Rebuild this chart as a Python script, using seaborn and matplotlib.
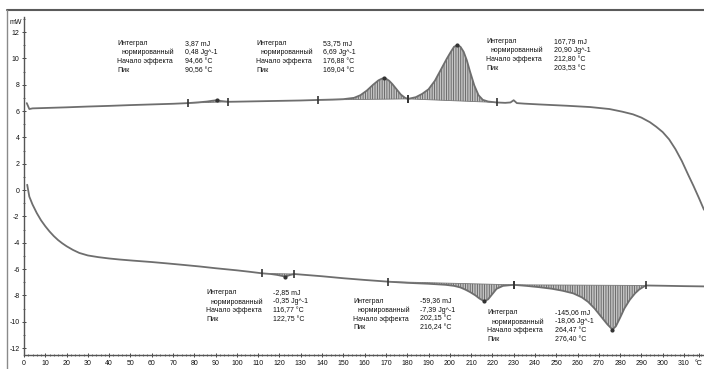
import numpy as np
import matplotlib
matplotlib.use("Agg")
import matplotlib.pyplot as plt
from matplotlib.lines import Line2D
from matplotlib.ticker import MultipleLocator, FixedLocator
import seaborn as sns

sns.set_style("white")
plt.rcParams['font.family'] = ['Liberation Sans', 'DejaVu Sans']
plt.rcParams['hatch.linewidth'] = 0.6

# Heating run, temperature (°C) and heat flow (mW)
heat_t = [1.3, 2.5, 4, 10, 20, 30, 40, 50, 60, 70, 77, 82, 86, 88.5, 90.56, 92.5,
          96, 100, 110, 120, 130, 138, 145, 150, 155, 158, 161, 164, 166.5, 168,
          169.04, 170, 171.5, 173, 175, 177, 179, 180.4, 184, 187, 190, 193, 196,
          198.5, 200.5, 202, 203.53, 205, 206.5, 208, 209.5, 211.5, 213.5, 215.5,
          218, 222, 226, 228.5, 230, 231.5, 235, 242, 255, 266, 275, 281, 286, 290,
          294, 297, 300, 303, 306, 309, 312, 314.5, 317, 319.4]
heat_mw = [6.6, 6.15, 6.2, 6.23, 6.28, 6.34, 6.39, 6.45, 6.5, 6.55, 6.6, 6.66, 6.72, 6.78,
           6.82, 6.76, 6.7, 6.71, 6.74, 6.77, 6.8, 6.84, 6.87, 6.9, 7.0, 7.2, 7.55, 8.0,
           8.33, 8.45, 8.5, 8.46, 8.3, 8.05, 7.65, 7.25, 7.0, 6.92, 7.05, 7.3, 7.65, 8.3,
           9.2, 9.95, 10.5, 10.88, 11.0, 10.88, 10.5, 9.85, 9.0, 7.95, 7.2, 6.85, 6.72,
           6.65, 6.62, 6.65, 6.82, 6.6, 6.56, 6.5, 6.4, 6.3, 6.15, 5.95, 5.75, 5.5, 5.15,
           4.8, 4.4, 3.85, 3.1, 2.2, 1.15, 0.3, -0.6, -1.5]

# Cooling run, temperature (°C) and heat flow (mW)
cool_t = [1.5, 2.5, 4, 6, 8, 10, 12, 14, 16, 18, 20, 23, 26, 30, 35, 40, 45, 51, 60, 67,
          75, 82.7, 90, 100, 106, 112, 116, 119, 122.75, 125, 127, 140, 150, 160, 171,
          180, 190, 198, 202, 205, 207.5, 209.5, 212, 214, 216.24, 218, 220, 222, 225,
          230, 236, 242, 248, 253, 258, 262, 265, 268, 271, 274, 276.4, 278, 280, 282,
          284.5, 287, 289, 292, 300, 310, 319.4]
cool_mw = [0.4, -0.5, -1.1, -1.75, -2.3, -2.75, -3.15, -3.5, -3.8, -4.05, -4.27, -4.55,
           -4.78, -4.97, -5.1, -5.2, -5.28, -5.36, -5.47, -5.57, -5.69, -5.81, -5.94, -6.1,
           -6.21, -6.33, -6.38, -6.45, -6.58, -6.45, -6.38, -6.55, -6.7, -6.83, -6.96,
           -7.05, -7.12, -7.2, -7.28, -7.4, -7.58, -7.75, -8.0, -8.25, -8.45, -8.3, -7.9,
           -7.5, -7.28, -7.2, -7.28, -7.38, -7.5, -7.65, -7.85, -8.15, -8.5, -9.0, -9.6,
           -10.2, -10.6, -10.35, -9.7, -9.0, -8.35, -7.85, -7.55, -7.25, -7.27, -7.3,
           -7.32]

# Evaluated effects: start, end and peak temperature
heat_start = [77, 138, 180.4]
heat_end = [96, 180.4, 222]
heat_peak = [90.56, 169.04, 203.53]
cool_start = [112, 171, 230]
cool_end = [127, 230, 292]
cool_peak = [122.75, 216.24, 276.40]

# Result tables
row_names = ["Интеграл", "нормированный", "Начало эффекта", "Пик"]
heat_integral = ["3,87 mJ", "53,75 mJ", "167,79 mJ"]
heat_norm = ["0,48 Jg^-1", "6,69 Jg^-1", "20,90 Jg^-1"]
heat_onset = ["94,66 °C", "176,88 °C", "212,80 °C"]
heat_peak_txt = ["90,56 °C", "169,04 °C", "203,53 °C"]
cool_integral = ["-2,85 mJ", "-59,36 mJ", "-145,06 mJ"]
cool_norm = ["-0,35 Jg^-1", "-7,39 Jg^-1", "-18,06 Jg^-1"]
cool_onset = ["116,77 °C", "202,15 °C", "264,47 °C"]
cool_peak_txt = ["122,75 °C", "216,24 °C", "276,40 °C"]

x_ticks = list(range(0, 320, 10))
x_labels = [str(v) for v in x_ticks]
y_ticks = list(range(-12, 13, 2))

W, H = 704, 369
fig = plt.figure(figsize=(W / 100, H / 100), dpi=100)
ax = fig.add_axes([24 / W, 14 / H, 680 / W, 338 / H])
ax.set_xlim(0, 319.4)
ax.set_ylim(-12.53, 13.14)

curve_c = "#6e6e6e"
ink = "#111111"


def draw_run(ts, ms, starts, ends, peaks):
    ts = np.asarray(ts, float)
    ms = np.asarray(ms, float)
    sns.lineplot(x=ts, y=ms, ax=ax, color=curve_c, lw=1.3, sort=False, estimator=None)
    for a, b, p in zip(starts, ends, peaks):
        ya, yb = np.interp([a, b], ts, ms)
        sel = (ts >= a) & (ts <= b)
        xs = ts[sel]
        base = ya + (yb - ya) * (xs - a) / (b - a)
        ax.fill_between(xs, ms[sel], base, facecolor="#c4c4c4", edgecolor="#5e5e5e",
                        hatch="|||||||", lw=0, zorder=1)
        ax.plot([a, b], [ya, yb], color="#777777", lw=0.6, zorder=2)
        ax.plot([a, b], [ya, yb], ls="none", marker="|", ms=6, mew=1.2, color="#333333",
                zorder=4)
        ax.plot([p], np.interp([p], ts, ms), ls="none", marker="o", ms=2, color="#333333",
                zorder=4)


draw_run(heat_t, heat_mw, heat_start, heat_end, heat_peak)
draw_run(cool_t, cool_mw, cool_start, cool_end, cool_peak)

# Result tables: label column x, value column x, first row y
heat_anchor = [(43.7, 75.6, 11.14), (109.0, 140.4, 11.14), (217.0, 249.0, 11.26)]
cool_anchor = [(85.5, 117.0, -7.82), (154.5, 186.0, -8.43), (217.5, 249.4, -9.34)]
row_step = 0.683


def draw_table(anchor, vals):
    lx, vx, y0 = anchor
    for i, (name, val) in enumerate(zip(row_names, vals)):
        y = y0 - i * row_step
        ax.text(lx + (2.3 if i == 1 else 0), y, name, fontsize=5, color=ink,
                va="center", ha="left")
        ax.text(vx, y, val, fontsize=5, color=ink, va="center", ha="left")


for k in range(3):
    draw_table(heat_anchor[k], [heat_integral[k], heat_norm[k], heat_onset[k],
                                heat_peak_txt[k]])
    draw_table(cool_anchor[k], [cool_integral[k], cool_norm[k], cool_onset[k],
                                cool_peak_txt[k]])

# Axes styling
for s in ["top", "right"]:
    ax.spines[s].set_visible(False)
for s in ["left", "bottom"]:
    ax.spines[s].set_color("#555555")
    ax.spines[s].set_linewidth(1.0)

ax.xaxis.set_major_locator(FixedLocator(x_ticks + [317]))
ax.set_xticklabels(x_labels + ["°C"])
ax.xaxis.set_minor_locator(MultipleLocator(2))
ax.yaxis.set_major_locator(FixedLocator(y_ticks))
ax.set_yticklabels([str(v) for v in y_ticks])
ax.yaxis.set_minor_locator(MultipleLocator(1))
ax.tick_params(axis="both", which="major", direction="inout", length=3.5, width=0.7,
               colors="#444444", labelsize=5, labelcolor=ink, pad=1.5)
ax.tick_params(axis="both", which="minor", direction="inout", length=2, width=0.6,
               colors="#555555")
ax.tick_params(axis="x", which="both", bottom=True)
ax.tick_params(axis="y", which="both", left=True)
ax.set_xlabel("")
ax.set_ylabel("")

fig.text(10 / W, 1 - 22 / H, "mW", fontsize=5, color=ink, va="center", ha="left")

# Outer frame
fig.add_artist(Line2D([7 / W, 1], [1 - 10 / H, 1 - 10 / H], color="#5a5a5a", lw=1.5,
                      transform=fig.transFigure))
fig.add_artist(Line2D([7 / W, 7 / W], [0, 1 - 10 / H], color="#8a8a8a", lw=1.0,
                      transform=fig.transFigure))

fig.savefig("out.png", dpi=100)
